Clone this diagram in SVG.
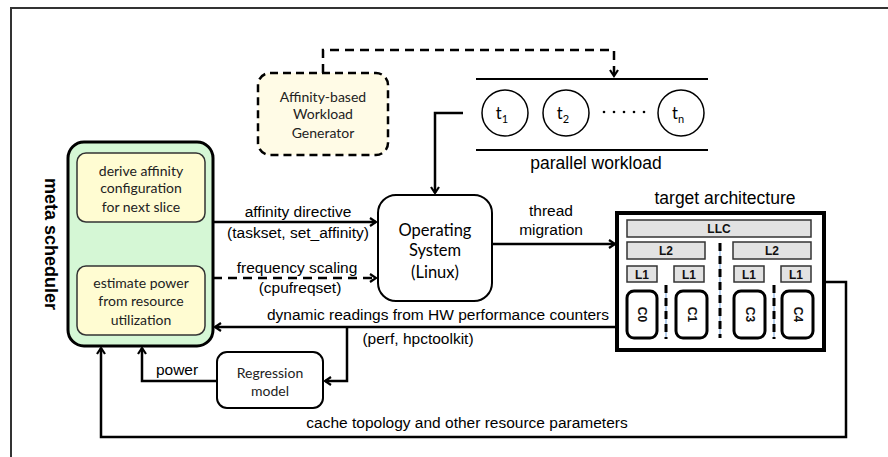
<svg xmlns="http://www.w3.org/2000/svg" width="888" height="457" viewBox="0 0 888 457">
<style>
.lbl{font-family:"Liberation Sans",Arial,sans-serif;font-size:15.5px;fill:#000;text-anchor:middle}
.big{font-family:"Liberation Sans",Arial,sans-serif;font-size:17.5px;fill:#000;text-anchor:middle}
.cal{font-family:Lato,"Open Sans",sans-serif;font-size:14px;fill:#222;text-anchor:middle}
.os{font-family:Lato,"Open Sans",sans-serif;font-size:16.5px;fill:#000;text-anchor:middle}
.conn{fill:none;stroke:#000;stroke-width:2.5}
.dash{stroke-dasharray:9 6}
.cache{fill:#e2e2e2;stroke:#333;stroke-width:1.5}
.ctext{font-family:"Liberation Sans",Arial,sans-serif;font-size:12px;font-weight:bold;fill:#111;text-anchor:middle}
.core{fill:#fff;stroke:#000;stroke-width:3}
.sep{stroke:#000;stroke-width:3;stroke-dasharray:8 5}
.sepb{stroke:#6f9fd8;stroke-width:1}
</style>
<defs>
<marker id="ah" markerWidth="10" markerHeight="12" refX="7" refY="5" orient="auto" markerUnits="userSpaceOnUse">
<path d="M1,1 L7,5 L1,9" fill="none" stroke="#000" stroke-width="2.2"/>
</marker>
</defs>
<rect width="888" height="457" fill="#fff"/>
<path d="M11,457 V8 H888" fill="none" stroke="#333" stroke-width="2"/>

<g id="connectors">
<path class="conn dash" d="M323,73 V50 H614 V76" stroke-width="2.5" marker-end="url(#ah)"/>
<path class="conn" d="M463,113 H435 V193" marker-end="url(#ah)"/>
<path class="conn" d="M213,222 H376" marker-end="url(#ah)"/>
<path class="conn dash" d="M213,278 H376" marker-end="url(#ah)"/>
<path class="conn" d="M492,244 H615" marker-end="url(#ah)"/>
<path class="conn" d="M617,327 H215" marker-end="url(#ah)"/>
<path class="conn" d="M347,327 V381 H325" marker-end="url(#ah)"/>
<path class="conn" d="M217,381 H142 V348" marker-end="url(#ah)"/>
<path class="conn" d="M824,282 H846 V437 H101 V348" marker-end="url(#ah)"/>
<path class="conn" d="M142,266 V224" marker-end="url(#ah)"/>
</g>

<g id="labels">
<text class="lbl" x="298" y="217">affinity directive</text>
<text class="lbl" x="298" y="238">(taskset, set_affinity)</text>
<text class="lbl" x="297" y="273">frequency scaling</text>
<text class="lbl" x="300" y="293">(cpufreqset)</text>
<text class="lbl" x="551" y="216">thread</text>
<text class="lbl" x="551" y="235">migration</text>
<text class="lbl" x="438" y="320">dynamic readings from HW performance counters</text>
<text class="lbl" x="418" y="344">(perf, hpctoolkit)</text>
<text class="lbl" x="177" y="375">power</text>
<text class="lbl" x="467" y="428">cache topology and other resource parameters</text>
</g>

<g id="meta-scheduler">
<rect x="68" y="142" width="145" height="204" rx="16" fill="#d5f7d5" stroke="#000" stroke-width="3"/>
<text x="51" y="244" transform="rotate(90 51 244)" font-family="Liberation Sans,Arial,sans-serif" font-size="18" font-weight="bold" text-anchor="middle" dominant-baseline="central">meta scheduler</text>
</g>

<g id="derive-affinity">
<rect x="77" y="153" width="128" height="69" rx="9" fill="#fffcd2" stroke="#333" stroke-width="1.5"/>
<text class="cal" x="141" y="176">derive affinity</text>
<text class="cal" x="141" y="193">configuration</text>
<text class="cal" x="141" y="212">for next  slice</text>
</g>

<g id="estimate-power">
<rect x="77" y="266" width="128" height="69" rx="9" fill="#fffcd2" stroke="#333" stroke-width="1.5"/>
<text class="cal" x="141" y="288">estimate power</text>
<text class="cal" x="141" y="306">from resource</text>
<text class="cal" x="141" y="325">utilization</text>
</g>

<g id="workload-generator">
<rect x="258" y="73" width="130" height="82" rx="12" fill="#fffbe6" stroke="#000" stroke-width="2.5" stroke-dasharray="8 5"/>
<text class="cal" x="323" y="102">Affinity-based</text>
<text class="cal" x="323" y="119">Workload</text>
<text class="cal" x="323" y="138">Generator</text>
</g>

<g id="parallel-workload">
<line x1="476" y1="79" x2="708" y2="79" stroke="#000" stroke-width="2"/>
<line x1="476" y1="150" x2="708" y2="150" stroke="#000" stroke-width="2"/>
<circle cx="505" cy="113" r="23" fill="#fff" stroke="#000" stroke-width="1.5"/>
<circle cx="566" cy="113" r="23" fill="#fff" stroke="#000" stroke-width="1.5"/>
<circle cx="681" cy="113" r="23" fill="#fff" stroke="#000" stroke-width="1.5"/>
<text class="os" x="502" y="119">t<tspan font-size="11" dy="4">1</tspan></text>
<text class="os" x="563" y="119">t<tspan font-size="11" dy="4">2</tspan></text>
<text class="os" x="678" y="119">t<tspan font-size="11" dy="4">n</tspan></text>
<g fill="#000"><circle cx="604" cy="112" r="1.3"/><circle cx="614" cy="112" r="1.3"/><circle cx="624" cy="112" r="1.3"/><circle cx="634" cy="112" r="1.3"/><circle cx="644" cy="112" r="1.3"/></g>
<text class="big" x="596" y="169">parallel workload</text>
</g>

<g id="operating-system">
<rect x="378" y="195" width="114" height="106" rx="18" fill="#fff" stroke="#000" stroke-width="2"/>
<text class="os" x="435" y="236">Operating</text>
<text class="os" x="435" y="256">System</text>
<text class="os" x="435" y="278">(Linux)</text>
</g>

<g id="regression-model">
<rect x="217" y="352" width="106" height="56" rx="10" fill="#fff" stroke="#000" stroke-width="2"/>
<text class="cal" x="270" y="378">Regression</text>
<text class="cal" x="270" y="396">model</text>
</g>

<g id="target-architecture">
<text class="big" x="725" y="204">target architecture</text>
<rect x="617" y="213" width="207" height="137" fill="#fff" stroke="#000" stroke-width="4"/>
<rect class="cache" x="627" y="220" width="184" height="17"/>
<text class="ctext" x="719" y="233">LLC</text>
<rect class="cache" x="627" y="242" width="78" height="17"/>
<text class="ctext" x="666" y="255">L2</text>
<rect class="cache" x="733" y="242" width="78" height="17"/>
<text class="ctext" x="772" y="255">L2</text>
<rect class="cache" x="627" y="266" width="30" height="16"/>
<text class="ctext" x="642" y="278.5">L1</text>
<rect class="cache" x="674" y="266" width="30" height="16"/>
<text class="ctext" x="689" y="278.5">L1</text>
<rect class="cache" x="734" y="266" width="30" height="16"/>
<text class="ctext" x="749" y="278.5">L1</text>
<rect class="cache" x="781" y="266" width="30" height="16"/>
<text class="ctext" x="796" y="278.5">L1</text>
<rect class="core" x="627" y="291" width="30" height="47" rx="7"/>
<rect class="core" x="676" y="291" width="31" height="47" rx="7"/>
<rect class="core" x="734" y="291" width="31" height="47" rx="7"/>
<rect class="core" x="782" y="291" width="31" height="47" rx="7"/>
<text class="ctext" font-size="14" transform="translate(642 314.5) rotate(90)" dominant-baseline="central">C0</text>
<text class="ctext" font-size="14" transform="translate(691.5 314.5) rotate(90)" dominant-baseline="central">C1</text>
<text class="ctext" font-size="14" transform="translate(749.5 314.5) rotate(90)" dominant-baseline="central">C3</text>
<text class="ctext" font-size="14" transform="translate(797.5 314.5) rotate(90)" dominant-baseline="central">C4</text>
<line class="sepb" x1="720" y1="243" x2="720" y2="338"/>
<line class="sep" x1="720" y1="243" x2="720" y2="338"/>
<line class="sepb" x1="666" y1="285" x2="666" y2="339"/>
<line class="sep" x1="666" y1="285" x2="666" y2="339"/>
<line class="sepb" x1="774" y1="285" x2="774" y2="339"/>
<line class="sep" x1="774" y1="285" x2="774" y2="339"/>
</g>
</svg>
